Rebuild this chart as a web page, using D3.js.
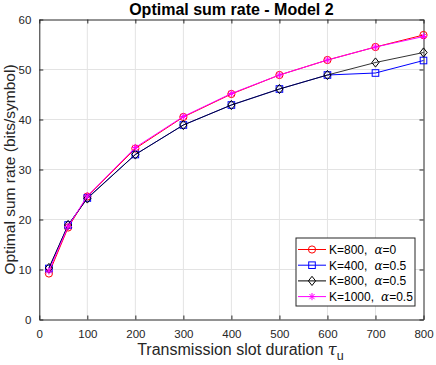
<!DOCTYPE html>
<html>
<head>
<meta charset="utf-8">
<script src="https://cdn.jsdelivr.net/npm/d3@7"></script>
<style>
  body { margin: 0; background: #fff; }
  text { font-family: "Liberation Sans", Arial, sans-serif; }
</style>
</head>
<body>
<div id="chart"></div>
<script>
// data
const slots = [20, 60, 100, 200, 300, 400, 500, 600, 700, 800];
const rateK800a0 = [9.2, 18.4, 24.6, 34.2, 40.5, 45.1, 48.9, 51.9, 54.5, 56.9];
const rateK400a05 = [10.2, 18.9, 24.3, 33.0, 38.9, 42.9, 46.1, 48.9, 49.3, 51.8];
const rateK800a05 = [10.3, 18.9, 24.2, 33.0, 38.9, 42.9, 46.1, 48.9, 51.4, 53.4];
const rateK1000a05 = [9.7, 18.6, 24.7, 34.4, 40.6, 45.2, 48.9, 51.9, 54.5, 56.6];
const xTicks = [0, 100, 200, 300, 400, 500, 600, 700, 800];
const yTicks = [0, 10, 20, 30, 40, 50, 60];

const series = [
  { k: "K=800,", a: "0", vals: rateK800a0, color: "#ff0000", marker: "circle" },
  { k: "K=400,", a: "0.5", vals: rateK400a05, color: "#0000ff", marker: "square" },
  { k: "K=800,", a: "0.5", vals: rateK800a05, color: "#000000", marker: "diamond" },
  { k: "K=1000,", a: "0.5", vals: rateK1000a05, color: "#ff00ff", marker: "star" }
];

const width = 436, height = 365;
const margin = { top: 19.5, right: 12.5, bottom: 45.5, left: 39.3 };
const innerW = width - margin.left - margin.right;
const innerH = height - margin.top - margin.bottom;

const svg = d3.select("#chart").append("svg")
  .attr("width", width).attr("height", height);

const g = svg.append("g").attr("transform", `translate(${margin.left},${margin.top})`);

const x = d3.scaleLinear().domain([0, 800]).range([0, innerW]);
const y = d3.scaleLinear().domain([0, 60]).range([innerH, 0]);

// grid
g.append("g").selectAll("line").data(xTicks.slice(1, -1)).join("line")
  .attr("x1", d => x(d)).attr("x2", d => x(d)).attr("y1", 0).attr("y2", innerH)
  .attr("stroke", "#e3e3e3").attr("stroke-width", 1);
g.append("g").selectAll("line").data(yTicks.slice(1, -1)).join("line")
  .attr("y1", d => y(d)).attr("y2", d => y(d)).attr("x1", 0).attr("x2", innerW)
  .attr("stroke", "#e3e3e3").attr("stroke-width", 1);

// axes
const axisColor = "#262626";
const styleAxis = sel => {
  sel.select(".domain").attr("stroke", axisColor);
  sel.selectAll(".tick line").attr("stroke", axisColor);
  sel.selectAll(".tick text").attr("fill", axisColor).attr("font-size", 11.5)
    .style("font-family", "Liberation Sans, Arial, sans-serif");
};
g.append("g").attr("transform", `translate(0,${innerH})`)
  .call(d3.axisBottom(x).tickValues(xTicks).tickSize(-4).tickSizeOuter(0).tickPadding(10))
  .call(styleAxis);
g.append("g")
  .call(d3.axisLeft(y).tickValues(yTicks).tickSize(-4).tickSizeOuter(0).tickPadding(8))
  .call(styleAxis);
g.append("g")
  .call(d3.axisTop(x).tickValues(xTicks).tickSize(-4).tickSizeOuter(0).tickFormat(""))
  .call(styleAxis);
g.append("g").attr("transform", `translate(${innerW},0)`)
  .call(d3.axisRight(y).tickValues(yTicks).tickSize(-4).tickSizeOuter(0).tickFormat(""))
  .call(styleAxis);

// markers
const drawMarker = (sel, type, color) => {
  if (type === "circle") {
    sel.append("circle").attr("r", 3.6).attr("fill", "none").attr("stroke", color);
  } else if (type === "square") {
    sel.append("rect").attr("x", -3.3).attr("y", -3.3).attr("width", 6.6).attr("height", 6.6)
      .attr("fill", "none").attr("stroke", color);
  } else if (type === "diamond") {
    sel.append("path").attr("d", "M0,-4.6L3.6,0L0,4.6L-3.6,0Z")
      .attr("fill", "none").attr("stroke", color);
  } else if (type === "star") {
    const r = 3.6, d = r * 0.72;
    sel.append("path")
      .attr("d", `M0,${-r}V${r}M${-r},0H${r}M${-d},${-d}L${d},${d}M${-d},${d}L${d},${-d}`)
      .attr("fill", "none").attr("stroke", color);
  }
};

const line = d3.line().x((d, i) => x(slots[i])).y(d => y(d));

series.forEach(s => {
  g.append("path").datum(s.vals).attr("d", line)
    .attr("fill", "none").attr("stroke", s.color).attr("stroke-width", 1)
    .attr("stroke-opacity", s.marker === "diamond" ? 0.8 : 1);
  s.vals.forEach((v, i) => {
    const m = g.append("g").attr("transform", `translate(${x(slots[i])},${y(v)})`);
    drawMarker(m, s.marker, s.color);
  });
});

// title
svg.append("text").attr("x", margin.left + innerW / 2).attr("y", 15)
  .attr("text-anchor", "middle").attr("font-size", 16).attr("font-weight", "bold")
  .attr("fill", "#000").text("Optimal sum rate - Model 2");

// axis labels
svg.append("text")
  .attr("transform", `translate(15,${margin.top + innerH / 2}) rotate(-90)`)
  .attr("text-anchor", "middle").attr("font-size", 15.5).attr("fill", axisColor)
  .text("Optimal sum rate (bits/symbol)");

const xl = svg.append("text").attr("x", margin.left + innerW / 2 + 9).attr("y", 355)
  .attr("text-anchor", "middle").attr("font-size", 16).attr("fill", axisColor);
xl.append("tspan").text("Transmission slot duration ");
xl.append("tspan").attr("font-family", "DejaVu Serif, serif").attr("font-style", "italic").text("τ");
xl.append("tspan").attr("dy", 5).attr("font-size", 12.5).text("u");

// legend
const lg = svg.append("g").attr("transform", "translate(296,238)");
lg.append("rect").attr("width", 119).attr("height", 68)
  .attr("fill", "#fff").attr("stroke", axisColor).attr("stroke-width", 1);
series.forEach((s, i) => {
  const row = lg.append("g").attr("transform", `translate(0,${11.5 + i * 15.7})`);
  row.append("line").attr("x1", 2).attr("x2", 30).attr("stroke", s.color);
  drawMarker(row.append("g").attr("transform", "translate(16,0)"), s.marker, s.color);
  const t = row.append("text").attr("x", 33).attr("y", 4.5).attr("font-size", 12).attr("fill", "#000");
  t.append("tspan").text(s.k);
  t.append("tspan").attr("dx", 7).attr("font-family", "DejaVu Serif, serif").attr("font-style", "italic").text("α");
  t.append("tspan").text("=" + s.a);
});
</script>
</body>
</html>
